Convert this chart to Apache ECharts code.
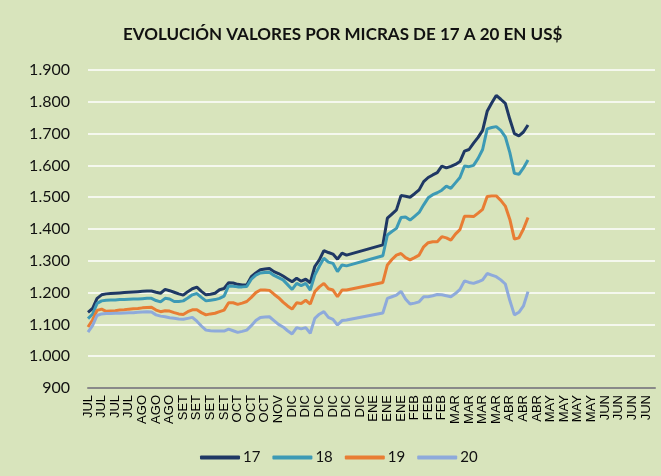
<!DOCTYPE html>
<html><head><meta charset="utf-8">
<script src="https://cdn.jsdelivr.net/npm/echarts@6/dist/echarts.min.js"></script>
<style>html,body{margin:0;padding:0;background:#d8e4bc}#c{width:661px;height:476px}</style>
</head><body><div id="c"></div>
<script>
const tickLabels = ['JUL','JUL','JUL','JUL','AGO','AGO','AGO','SET','SET','SET','SET','OCT','OCT','OCT','NOV','DIC','DIC','DIC','DIC','DIC','DIC','ENE','ENE','ENE','FEB','FEB','FEB','MAR','MAR','MAR','MAR','ABR','ABR','ABR','MAY','MAY','MAY','MAY','JUN','JUN','JUN'];
const seriesNames = ['17','18','19','20'];
const s17 = [1138,1150,1182,1193,1196,1197,1198,1199,1200,1201,
  1202,1203,1204,1205,1205,1201,1198,1210,1206,1201,
  1196,1192,1203,1212,1217,1204,1193,1195,1198,1209,
  1213,1231,1230,1226,1224,1224,1250,1262,1272,1274,
  1276,1266,1260,1252,1243,1234,1245,1236,1242,1231,
  1282,1303,1332,1326,1321,1305,1324,1318,
  null,null,null,null,null,null,null,
  1350,1434,1447,1460,1505,1503,1500,1511,1523,1549,
  1562,1570,1577,1598,1592,1597,1603,1612,1645,1650,
  1670,1688,1710,1770,1796,1820,1808,1795,1745,1700,
  1693,1705,1727];
const s18 = [1118,1132,1166,1174,1176,1177,1177,1178,1178,1179,
  1180,1180,1181,1182,1182,1175,1171,1182,1180,1172,
  1172,1174,1183,1193,1197,1185,1174,1176,1178,1182,
  1189,1221,1220,1218,1218,1219,1242,1255,1262,1263,
  1264,1254,1247,1240,1225,1210,1229,1222,1229,1208,
  1255,1283,1308,1296,1292,1266,1287,1284,
  null,null,null,null,null,null,null,
  1316,1381,1392,1402,1436,1438,1428,1440,1452,1476,
  1498,1508,1514,1522,1535,1528,1545,1562,1598,1596,
  1600,1622,1650,1715,1719,1722,1710,1690,1640,1575,
  1572,1592,1617];
const s19 = [1092,1114,1144,1148,1141,1142,1143,1145,1146,1148,
  1149,1150,1152,1153,1154,1145,1140,1143,1142,1137,
  1133,1131,1140,1146,1146,1137,1130,1133,1135,1140,
  1145,1168,1168,1163,1167,1172,1185,1200,1208,1208,
  1207,1195,1184,1170,1158,1148,1168,1166,1176,1164,
  1203,1218,1229,1212,1208,1187,1208,1208,
  null,null,null,null,null,null,null,
  1232,1287,1304,1318,1323,1310,1303,1310,1318,1344,
  1357,1360,1360,1376,1372,1365,1384,1398,1440,1440,
  1439,1450,1462,1502,1504,1504,1490,1472,1430,1368,
  1372,1400,1436];
const s20 = [1076,1096,1128,1133,1134,1134,1135,1135,1136,1137,
  1137,1138,1139,1140,1139,1130,1126,1124,1121,1119,
  1117,1116,1119,1122,1110,1095,1082,1080,1079,1079,
  1079,1085,1080,1075,1078,1082,1096,1112,1122,1123,
  1124,1112,1100,1092,1080,1070,1090,1086,1090,1072,
  1119,1132,1140,1122,1116,1098,1112,1114,
  null,null,null,null,null,null,null,
  1136,1182,1187,1192,1204,1180,1164,1167,1171,1187,
  1187,1190,1194,1193,1190,1187,1197,1210,1237,1232,
  1229,1234,1240,1260,1255,1250,1240,1227,1175,1130,
  1138,1158,1203];
const colors = ['#1f3864','#3d9ab5','#e87d34','#8eaadb'];
const labelOffsets = [[8,-12],[8,-6],[12,-4],[8,-5]];
const perTick = 3, totalCats = 126;
const categories = Array.from({length: totalCats}, (_, j) => tickLabels[Math.min(Math.floor(j / perTick), tickLabels.length - 1)]);
const allSeries = [s17, s18, s19, s20];

const chart = echarts.init(document.getElementById('c'));
chart.setOption({
  backgroundColor: '#d8e4bc',
  animation: false,
  textStyle: {fontFamily: 'Lato'},
  title: {
    text: 'EVOLUCIÓN VALORES POR MICRAS DE 17 A 20 EN US$',
    left: 118, top: 21,
    textStyle: {fontFamily: 'Lato', fontWeight: 'bold', fontSize: 17, color: '#111'}
  },
  legend: {
    bottom: 6, left: 195, itemWidth: 40, itemHeight: 4, itemGap: 12, icon: 'roundRect',
    textStyle: {fontFamily: 'Lato', fontSize: 15, color: '#111', padding: [0, 0, 0, -2]},
    data: seriesNames
  },
  grid: {left: 88, right: 6, top: 70, bottom: 88, containLabel: false},
  xAxis: {
    type: 'category', data: categories, boundaryGap: false,
    axisLine: {lineStyle: {color: '#898989', width: 2}},
    axisTick: {show: false},
    axisLabel: {interval: perTick - 1, rotate: 90, fontFamily: 'Liberation Sans', fontSize: 13, color: '#000', margin: 7}
  },
  yAxis: {
    type: 'value', min: 900, max: 1900, interval: 100,
    axisLine: {show: false}, axisTick: {show: false},
    splitLine: {lineStyle: {color: '#ffffff', width: 1.5}},
    axisLabel: {
      fontFamily: 'Lato', fontSize: 16, color: '#111', margin: 18,
      formatter: v => v >= 1000 ? Math.floor(v / 1000) + '.' + String(v % 1000).padStart(3, '0') : String(v)
    }
  },
  series: allSeries.map((arr, k) => {
    let last = -1;
    arr.forEach((v, i) => { if (v != null) last = i; });
    return {
      name: seriesNames[k], type: 'line', showSymbol: false, symbol: 'none', connectNulls: true,
      lineStyle: {width: 3, color: colors[k]}, itemStyle: {color: colors[k]},
      data: arr.map((v, i) => i === last ? {value: v, label: {
        show: true, position: 'right', offset: labelOffsets[k], formatter: '{c}',
        fontFamily: 'Lato', fontWeight: 'bold', fontSize: 16, color: colors[k]
      }} : v)
    };
  })
});
</script></body></html>
